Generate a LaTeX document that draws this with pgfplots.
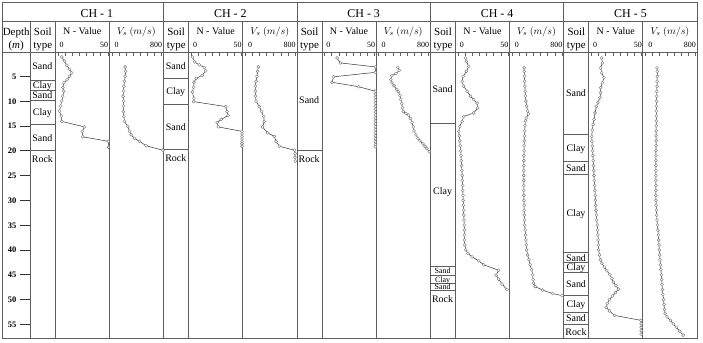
\documentclass[border=0pt]{standalone}
\usepackage{fontspec}
\setmainfont{Liberation Serif}
\usepackage{pgfplots}
\pgfplotsset{compat=1.18}

\definecolor{tline}{HTML}{5E5E5E}
\definecolor{cline}{HTML}{333333}
\definecolor{mk}{HTML}{7A7A7A}

\pgfplotsset{
  base/.style={scale only axis, anchor=north west, height=285.8bp,
    ymin=0.24, ymax=57.86, y dir=reverse, clip=false},
  panel/.style={base, axis line style={draw=none}, ytick=\empty,
    xtick pos=right, tick align=inside, xticklabels={},
    xticklabel style={opacity=0, text opacity=0},
    major tick length=3.5bp, tick style={tline, line width=0.6bp}},
  npanel/.style={panel, width=54bp, xmin=-2.6, xmax=51.4,
    xtick={0,7.143,14.286,21.429,28.571,35.714,42.857,50}},
  vpanel/.style={panel, width=54.4bp, xmin=-41.6, xmax=828.8,
    xtick={0,114.29,228.57,342.86,457.14,571.43,685.71,800}},
  soilpanel/.style={base, width=25bp, xmin=0, xmax=25, hide axis},
  curve/.style={line width=0.5bp, cline, mark=*, mark size=1.5bp,
    mark options={fill=white, draw=mk, line width=0.4bp, solid}},
}
\tikzset{
  lay/.style={tline, line width=0.8bp},
  soil/.style={anchor=base, inner sep=0pt, yshift=-3.4bp, font=\fontsize{10}{12}\selectfont},
  soilsm/.style={anchor=base, inner sep=0pt, yshift=-2.6bp, font=\fontsize{8}{9}\selectfont},
}

\begin{document}
\begin{tikzpicture}
\useasboundingbox (0,0) rectangle (703bp,-343bp);

% ---------- table frame and header ----------
\begin{scope}[x=1bp,y=-1bp]
  \draw[tline, line width=0.9bp] (2,2) rectangle (697.2,338.5);
  \draw[tline, line width=0.8bp] (2,21.7) -- (697.2,21.7);
  \draw[tline, line width=0.8bp] (2,52.7) -- (697.2,52.7);
  \draw[tline, line width=0.8bp] (30.2,21.7) -- (30.2,338.5);
  \foreach \g in {30.2,163.6,297.0,430.4,563.8} {
    \draw[tline, line width=0.8bp] (\g+25,21.7) -- (\g+25,338.5);
    \draw[tline, line width=0.8bp] (\g+79,21.7) -- (\g+79,338.5);
    \draw[tline, line width=0.8bp] (\g+133.4,2) -- (\g+133.4,338.5);
  }
  \foreach \g/\k in {30.2/1,163.6/2,297.0/3,430.4/4,563.8/5} {
    \node[anchor=base, inner sep=0pt, font=\fontsize{12}{14}\selectfont] at (\g+66.7,17.3) {CH - \k};
    \node[anchor=base, inner sep=0pt, font=\fontsize{11}{13}\selectfont] at (\g+12.6,35) {Soil};
    \node[anchor=base, inner sep=0pt, font=\fontsize{11}{13}\selectfont] at (\g+12.6,48) {type};
    \node[anchor=base, inner sep=0pt, font=\fontsize{10}{12}\selectfont] at (\g+52,34) {N - Value};
    \node[anchor=base, inner sep=0pt, font=\fontsize{10}{12}\selectfont] at (\g+106.2,34) {$V_s\ (m/s)$};
    \node[anchor=base west, inner sep=0pt, font=\fontsize{8}{10}\selectfont] at (\g+29.2,47) {0};
    \node[anchor=base east, inner sep=0pt, font=\fontsize{8}{10}\selectfont] at (\g+78.2,47) {50};
    \node[anchor=base west, inner sep=0pt, font=\fontsize{8}{10}\selectfont] at (\g+84.3,47) {0};
    \node[anchor=base east, inner sep=0pt, font=\fontsize{8}{10}\selectfont] at (\g+132.2,47) {800};
  }
  \node[anchor=base, inner sep=0pt, font=\fontsize{11}{13}\selectfont] at (16.2,35) {Depth};
  \node[anchor=base, inner sep=0pt, font=\fontsize{11}{13}\selectfont] at (16.2,48) {(\textit{m})};
\end{scope}

% ---------- depth scale ----------
\begin{axis}[base, width=28.2bp, xmin=0, xmax=28.2, hide axis, at={(2bp,-52.7bp)}]
  \pgfplotsinvokeforeach{5,10,...,55}{
    \draw[cline, line width=0.7bp] (18.5,#1) -- (28.2,#1);
    \node[anchor=base east, inner sep=0pt, yshift=-2.9bp, font=\bfseries\fontsize{8.5}{10}\selectfont] at (14.5,#1) {#1};
  }
\end{axis}

% =============== CH-1 ===============
\begin{axis}[soilpanel, at={(30.2bp,-52.7bp)}]
  \draw[lay] (0,5.8) -- (25,5.8);
  \draw[lay] (0,7.8) -- (25,7.8);
  \draw[lay] (0,9.9) -- (25,9.9);
  \draw[lay] (0,14.75) -- (25,14.75);
  \draw[lay] (0,20.0) -- (25,20.0);
  \node[soil] at (12.2,2.9) {Sand};
  \node[soil] at (12.2,6.8) {Clay};
  \node[soil] at (12.2,8.85) {Sand};
  \node[soil] at (12.2,12.3) {Clay};
  \node[soil] at (12.2,17.4) {Sand};
  \node[soil] at (12.2,21.7) {Rock};
\end{axis}
\begin{axis}[npanel, at={(55.2bp,-52.7bp)}]
  \addplot[curve] coordinates {(4,1.1)(6.5,1.9)(9,2.8)(11.7,3.6)(14,4.3)(11.7,5.0)(9.3,5.7)(6,6.3)(5,7.3)(6,8.0)(5,9.0)(4,10.0)(2.7,11.0)(1.7,12.0)(3.3,13.0)(4,14.1)(26.7,15.2)(24.5,16.1)(25,17.2)(50.5,18.1)(50.7,19.3)};
\end{axis}
\begin{axis}[vpanel, at={(109.2bp,-52.7bp)}]
  \addplot[curve] coordinates {(213,3.1)(219,4.0)(213,5.0)(203,6.0)(192,7.0)(187,8.0)(181,9.0)(187,10.0)(187,11.0)(187,12.1)(192,13.1)(203,14.1)(256,15.1)(283,16.1)(309,16.8)(363,17.5)(443,18.1)(549,19.0)(816,19.9)};
\end{axis}

% =============== CH-2 ===============
\begin{axis}[soilpanel, at={(163.6bp,-52.7bp)}]
  \draw[lay] (0,5.46) -- (25,5.46);
  \draw[lay] (0,10.57) -- (25,10.57);
  \draw[lay] (0,19.8) -- (25,19.8);
  \node[soil] at (12.2,2.85) {Sand};
  \node[soil] at (12.2,8.0) {Clay};
  \node[soil] at (12.2,15.2) {Sand};
  \node[soil] at (12.2,21.5) {Rock};
\end{axis}
\begin{axis}[npanel, at={(188.6bp,-52.7bp)}]
  \addplot[curve] coordinates {(1.2,1.1)(3.5,2.1)(8,2.7)(13,3.2)(14.5,3.9)(11,4.8)(5,5.4)(2.8,6.2)(2.4,7.2)(1.1,8.2)(2.8,9.4)(2.4,10.1)(34.5,11.1)(35.8,12.1)(37,12.9)(30,13.7)(26,14.3)(27,15.2)(50.8,16.1)(50.8,16.6)(50.8,17.1)(50.8,17.6)(50.8,18.1)(50.8,18.6)(50.8,19.1)};
\end{axis}
\begin{axis}[vpanel, at={(242.6bp,-52.7bp)}]
  \addplot[curve] coordinates {(210,3.1)(198,4.0)(189,5.0)(173,6.0)(162,7.0)(162,8.0)(166,9.0)(173,10.0)(226,11.1)(262,12.1)(294,13.1)(306,14.1)(278,15.2)(358,16.4)(466,17.1)(493,18.1)(546,19.1)(790,19.9)(800,20.6)(795,21.3)(800,22.1)};
\end{axis}

% =============== CH-3 ===============
\begin{axis}[soilpanel, at={(297.0bp,-52.7bp)}]
  \draw[lay] (0,20.0) -- (25,20.0);
  \node[soil] at (12.2,9.8) {Sand};
  \node[soil] at (12.2,21.7) {Rock};
\end{axis}
\begin{axis}[npanel, at={(322.0bp,-52.7bp)}]
  \addplot[curve] coordinates {(12.4,1.3)(15.7,2.3)(50.7,3.1)(50.7,4.2)(9,5.1)(7.4,6.2)(34,7.1)(50.7,8.0)(50.7,8.6)(50.7,9.2)(50.7,9.8)(50.7,10.4)(50.7,11.0)(50.7,11.6)(50.7,12.2)(50.7,12.8)(50.7,13.4)(50.7,14.0)(50.7,14.6)(50.7,15.2)(50.7,15.8)(50.7,16.4)(50.7,17.0)(50.7,17.6)(50.7,18.2)(50.7,18.8)(50.7,19.2)};
\end{axis}
\begin{axis}[vpanel, at={(376.0bp,-52.7bp)}]
  \addplot[curve] coordinates {(307,3.2)(331,3.8)(278,4.45)(210,4.85)(194,5.66)(214,6.3)(246,6.9)(290,7.7)(315,8.1)(342,8.9)(355,9.7)(370,10.5)(382,11.3)(395,12.1)(438,12.5)(475,12.8)(510,13.5)(534,14.35)(555,15.2)(566,16.0)(598,16.8)(630,17.5)(662,18.0)(710,18.6)(742,19.1)(774,19.6)(811,20.2)};
\end{axis}

% =============== CH-4 ===============
\begin{axis}[soilpanel, at={(430.4bp,-52.7bp)}]
  \draw[lay] (0,14.4) -- (25,14.4);
  \draw[lay] (0,43.3) -- (25,43.3);
  \draw[lay] (0,45.2) -- (25,45.2);
  \draw[lay] (0,46.8) -- (25,46.8);
  \draw[lay] (0,48.2) -- (25,48.2);
  \node[soil] at (12.2,7.5) {Sand};
  \node[soil] at (12.2,28.2) {Clay};
  \node[soilsm] at (12.2,44.25) {Sand};
  \node[soilsm] at (12.2,45.95) {Clay};
  \node[soilsm] at (12.2,47.5) {Sand};
  \node[soil] at (12.2,49.9) {Rock};
\end{axis}
\begin{axis}[npanel, at={(455.4bp,-52.7bp)}]
  \addplot[curve] coordinates {(7.4,1.3)(8.4,2.0)(10.7,3.0)(8.4,4.0)(5.1,5.0)(4.1,6.0)(5.7,7.0)(9.1,8.0)(12.4,9.0)(15.7,9.7)(19.1,10.4)(19.7,11.4)(15.7,12.4)(5.7,13.1)(4.1,14.1)(1.7,15.1)(0.7,16.1)(1.3,17)(1.8,18)(2.2,19)(2.6,20)(3.0,21)(3.3,22)(3.6,23)(3.9,24)(4.2,25)(4.4,26)(4.6,27)(4.8,28)(5.0,29)(5.2,30)(5.4,31)(5.6,32)(5.8,33)(6.0,34)(6.2,35)(6.3,36)(6.4,37)(6.3,38)(6.8,39)(7.8,40)(10,40.7)(14,41.4)(20.7,42.2)(25.7,43.0)(40.7,44.1)(38,45.1)(40.7,45.9)(44,46.9)(49,48.0)};
\end{axis}
\begin{axis}[vpanel, at={(509.4bp,-52.7bp)}]
  \addplot[curve] coordinates {(194,3.3)(196,4)(198,5)(202,6)(206,7)(210,8)(215,9)(222,10)(235,11)(250,12)(262,12.6)(226,13.4)(215,14)(208,15)(203,16)(200,17)(197,18)(195,19)(193,20)(191,21)(190,22)(189,23)(188,24)(188,25)(188,26)(188,27)(189,28)(190,29)(191,30)(193,31)(195,32)(197,33)(200,34)(205,35)(210,36)(216,37)(222,38)(228,39)(235,40)(250,41)(270,42)(290,43)(315,44)(330,45)(338,46)(345,46.7)(370,47.4)(490,48.1)(650,48.8)(800,49.2)};
\end{axis}

% =============== CH-5 ===============
\begin{axis}[soilpanel, at={(563.8bp,-52.7bp)}]
  \draw[lay] (0,16.8) -- (25,16.8);
  \draw[lay] (0,22.2) -- (25,22.2);
  \draw[lay] (0,24.7) -- (25,24.7);
  \draw[lay] (0,40.6) -- (25,40.6);
  \draw[lay] (0,42.6) -- (25,42.6);
  \draw[lay] (0,44.5) -- (25,44.5);
  \draw[lay] (0,49.1) -- (25,49.1);
  \draw[lay] (0,52.6) -- (25,52.6);
  \draw[lay] (0,55.0) -- (25,55.0);
  \node[soil] at (12.2,8.3) {Sand};
  \node[soil] at (12.2,19.5) {Clay};
  \node[soil] at (12.2,23.45) {Sand};
  \node[soil] at (12.2,32.5) {Clay};
  \node[soil] at (12.2,41.6) {Sand};
  \node[soil] at (12.2,43.55) {Clay};
  \node[soil] at (12.2,46.8) {Sand};
  \node[soil] at (12.2,50.85) {Clay};
  \node[soil] at (12.2,53.8) {Sand};
  \node[soil] at (12.2,56.6) {Rock};
\end{axis}
\begin{axis}[npanel, at={(588.8bp,-52.7bp)}]
  \addplot[curve] coordinates {(10.3,1.3)(11,2.3)(9.3,3.3)(10.3,4.3)(12.6,5.3)(11,6.3)(9.3,7.3)(9.3,8.3)(8.5,9.3)(6.5,10.3)(5,11.1)(3.6,12.4)(2.6,13.7)(1.8,14.7)(0.9,15.8)(0.3,17.1)(0.5,18.1)(0.9,19.1)(1.2,20)(1.5,21)(1.8,22)(2.0,23)(2.3,24)(2.6,25)(2.9,26)(3.2,27)(3.5,28)(3.8,29)(4.0,30)(4.3,31)(4.6,32)(5.0,33)(5.4,34)(5.8,35)(6.1,36)(6.5,37)(6.8,38)(7.0,39)(7.2,40)(8.0,41)(9.0,42)(10.5,42.7)(13,43.5)(15.5,44.2)(18.5,45)(20.5,45.8)(22,46.5)(24.5,47.2)(27,47.9)(24,48.6)(21,49.3)(18,50)(16,50.8)(14.8,51.6)(18,52.3)(23.1,53.2)(49.5,54.2)(49.8,54.9)(49.8,55.6)(49.8,56.3)(49.8,57.0)};
\end{axis}
\begin{axis}[vpanel, at={(642.8bp,-52.7bp)}]
  \addplot[curve] coordinates {(185,3.3)(190,4)(190,5)(188,6)(186,7)(184,8)(182,9)(180,10)(178,11)(176,12)(175,13)(174,14)(173,15)(172,16)(171,17)(170,18)(170,19)(169,20)(169,21)(168,22)(168,23)(168,24)(168,25)(168,26)(168,27)(168,28)(168,29)(168,30)(172,31)(176,32)(180,33)(186,34)(193,35)(200,36)(207,37)(213,38)(218,39)(223,40)(228,41)(234,42)(241,43)(248,44)(255,45)(260,46)(266,47)(272,48)(280,49)(290,50)(298,51)(305,52)(315,52.8)(345,53.5)(400,54.2)(445,54.9)(495,55.6)(550,56.4)(605,57.2)};
\end{axis}

\end{tikzpicture}
\end{document}
